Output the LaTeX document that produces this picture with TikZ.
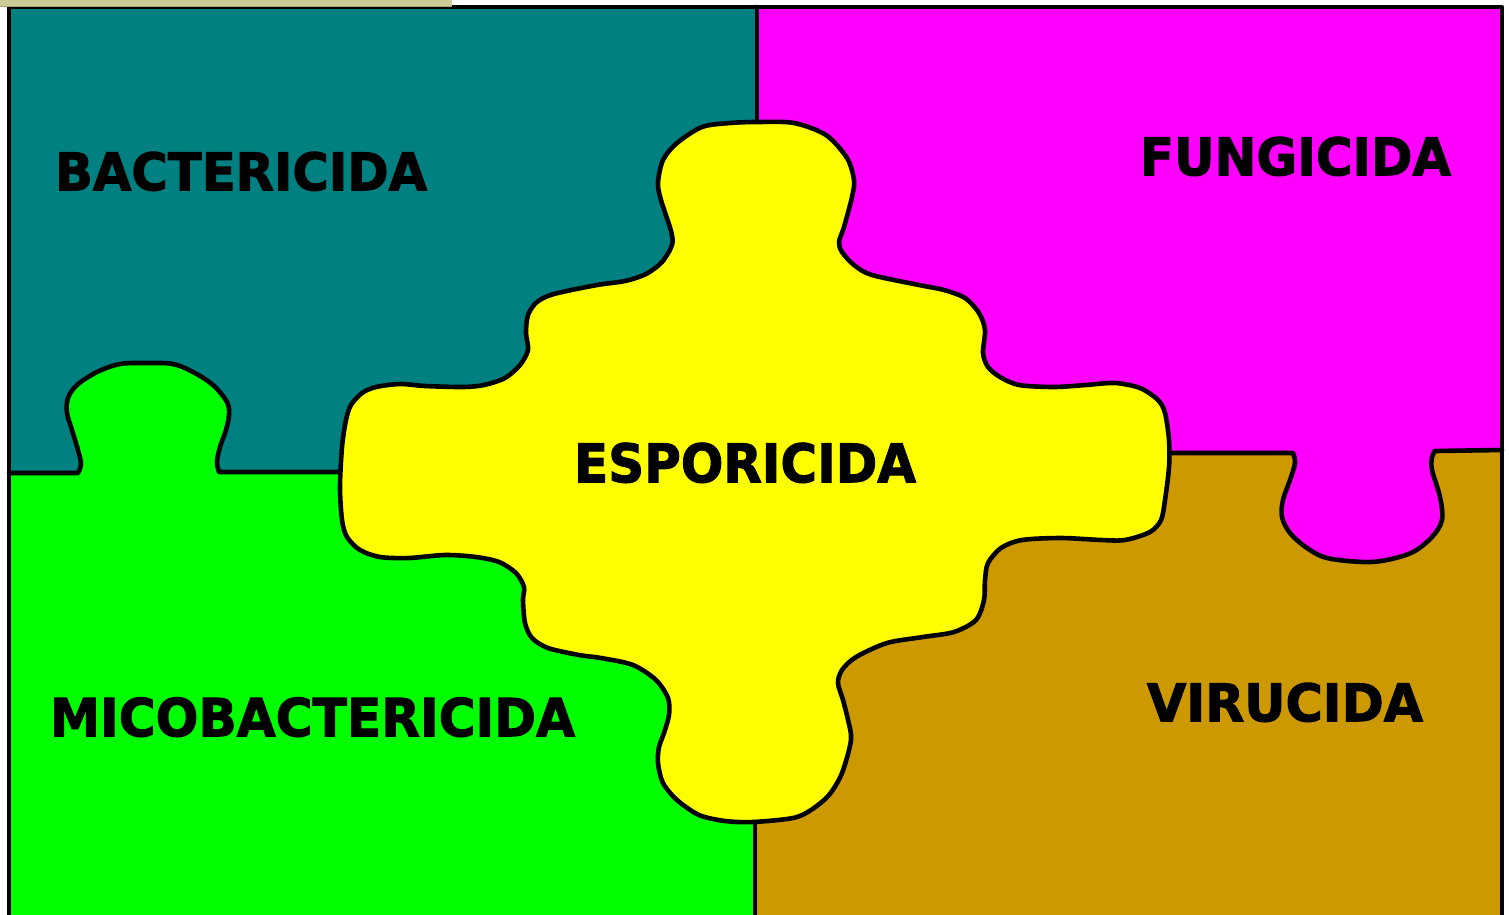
\documentclass[tikz,border=0pt]{standalone}
\usepackage{fontspec}
\setmainfont{DejaVu Sans}[BoldFeatures={FakeBold=2}]
\usepackage{graphicx}
\definecolor{teal1}{HTML}{008080}
\definecolor{mag1}{HTML}{FF00FF}
\definecolor{green1}{HTML}{00FF00}
\definecolor{brown1}{HTML}{CC9900}
\definecolor{yellow1}{HTML}{FFFF00}
\definecolor{beige1}{HTML}{CCCC99}
\definecolor{beige2}{HTML}{A8A878}
\tikzset{
  edge/.style={draw=black, line width=4.6pt, line join=round, line cap=round},
  label/.style={anchor=south west, inner sep=0pt, outer sep=0pt, font=\bfseries}
}
\begin{document}
\begin{tikzpicture}[x=1pt,y=-1pt]
\useasboundingbox (0,0) rectangle (1509,915);
\fill[white] (0,0) rectangle (1509,915);
\begin{scope}
\clip (0,0) rectangle (1509,915);
% region fills
\fill[teal1] (9,7) rectangle (757,473);
\fill[mag1] (757,7) rectangle (1502,452);
\fill[brown1] (755,452) rectangle (1502,920);
\fill[green1] (9,472) rectangle (755,920);
% green knob
\fill[green1] (78,475) -- plot[smooth, tension=0.55] coordinates {(78,473) (81,464) (78,450) (72,430) (67,413) (68,398) (77,385) (97,372) (120,364) (147,363) (173,364) (193,372) (213,385) (227,402) (229,415) (226,430) (220,447) (217,462) (219,472)} -- (219,475) -- cycle;
% magenta knob
\fill[mag1] (1293,450) -- plot[smooth, tension=0.55] coordinates {(1293,453) (1295,463) (1290,480) (1283,500) (1282,517) (1290,533) (1307,548) (1327,558) (1363,562) (1387,560) (1413,552) (1432,537) (1442,520) (1440,497) (1432,470) (1432,457) (1435,451)} -- (1435,448) -- cycle;
% frame
\draw[edge] (9,920) -- (9,7) -- (1502,7) -- (1502,920);
% dividers
\draw[edge] (757,7) -- (757,130);
\draw[edge] (755,815) -- (755,920);
\draw[edge] (9,473) -- (78,473) -- plot[smooth, tension=0.55] coordinates {(78,473) (81,464) (78,450) (72,430) (67,413) (68,398) (77,385) (97,372) (120,364) (147,363) (173,364) (193,372) (213,385) (227,402) (229,415) (226,430) (220,447) (217,462) (219,472)} -- (350,472);
\draw[edge] (1160,453) -- (1293,453) -- plot[smooth, tension=0.55] coordinates {(1293,453) (1295,463) (1290,480) (1283,500) (1282,517) (1290,533) (1307,548) (1327,558) (1363,562) (1387,560) (1413,552) (1432,537) (1442,520) (1440,497) (1432,470) (1432,457) (1435,451)} -- (1502,450);
% central yellow piece
\filldraw[edge, fill=yellow1] plot[smooth cycle, tension=0.5] coordinates {
(758,122) (794,123) (826,135) (847,158) (854,180) (852,197) (844,227) (839,242) (842,252) (854,265) (872,275) (919,285) (944,290) (965,298) (979,313) (985,330) (983,353) (988,367) (1000,377) (1019,385) (1054,387) (1086,385) (1115,383) (1140,388) (1158,400) (1165,413) (1169,440) (1169,467) (1165,500) (1161,520) (1150,532) (1125,540) (1101,540) (1061,538) (1022,540) (1001,548) (988,563) (985,580) (984,600) (976,620) (954,632) (923,637) (887,643) (856,657) (842,670) (838,683) (843,700) (848,720) (851,740) (842,773) (829,795) (811,810) (793,818) (753,822) (725,821) (699,815) (677,800) (663,783) (658,763) (659,747) (664,733) (669,715) (668,698) (656,680) (633,665) (601,658) (579,655) (548,648) (532,638) (525,623) (523,600) (524,587) (516,573) (499,562) (476,557) (445,555) (409,558) (380,557) (360,550) (347,537) (342,520) (340,487) (342,447) (346,420) (351,405) (362,393) (376,387) (400,384) (425,386) (463,387) (484,385) (505,378) (520,365) (528,350) (526,333) (528,315) (537,302) (554,294) (597,285) (625,281) (646,274) (662,262) (672,245) (671,231) (661,200) (658,183) (663,160) (677,143) (702,127) (730,123)};
% beige bar
\fill[beige1] (0,0) rectangle (452,7);
\draw[beige2, line width=1pt] (0,6.5) -- (452,6.5);
\end{scope}
% labels
\node[label] (bact) at (55,191) {\resizebox{372pt}{38.5pt}{BACTERICIDA}};
\node[label] (fung) at (1140,176) {\resizebox{311pt}{38.5pt}{FUNGICIDA}};
\node[label] (espo) at (574,483) {\resizebox{342pt}{39.5pt}{ESPORICIDA}};
\node[label] (mico) at (50,737) {\resizebox{525pt}{39pt}{MICOBACTERICIDA}};
\node[label] (viru) at (1147,722) {\resizebox{276pt}{38.5pt}{VIRUCIDA}};
\end{tikzpicture}
\end{document}
